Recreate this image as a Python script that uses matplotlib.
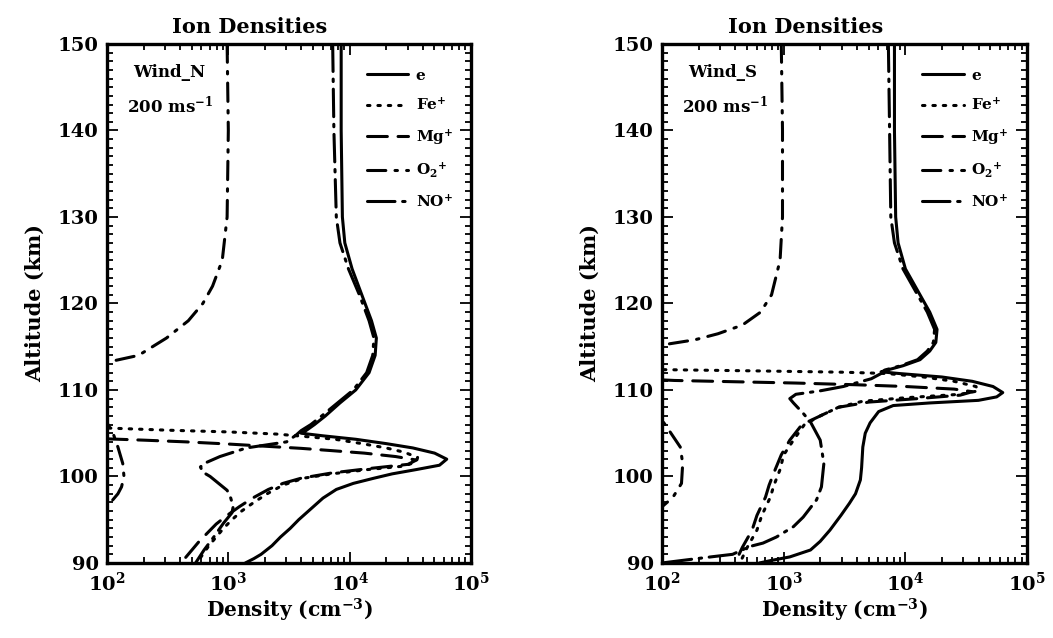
import numpy as np
import matplotlib
matplotlib.use("Agg")
import matplotlib.pyplot as plt
from matplotlib.ticker import FixedLocator, NullFormatter, LogLocator

plt.rcParams['font.family'] = ['DejaVu Serif']
plt.rcParams['font.weight'] = 'bold'
plt.rcParams['mathtext.fontset'] = 'dejavuserif'
plt.rcParams['mathtext.default'] = 'bf'

# ---------------- Wind_N panel (log10 density vs altitude) ----------------
alt_e_N = [150, 140, 130, 127, 124, 121, 118, 116, 114, 112, 110, 108.5, 107, 106, 105.3, 105.0,
           104.7, 104.3, 103.8, 103.3, 102.7, 102.0, 101.3, 100.8, 100.3, 99.8, 99.2, 98.5, 97.5,
           96.5, 95, 94, 93, 92, 91, 90.5, 90]
log_e_N = [3.93, 3.93, 3.94, 3.96, 4.02, 4.10, 4.18, 4.22, 4.21, 4.16, 4.05, 3.92, 3.80, 3.71, 3.64, 3.60,
           3.78, 4.05, 4.30, 4.52, 4.70, 4.80, 4.74, 4.55, 4.35, 4.20, 4.03, 3.89, 3.78,
           3.70, 3.58, 3.51, 3.43, 3.36, 3.27, 3.21, 3.14]

alt_fe_N = [106.2, 105.6, 105.35, 105.15, 104.9, 104.6, 104.3, 103.8, 103.3, 102.8, 102.2, 101.7, 101.2,
            100.8, 100.3, 99.8, 99, 98, 97, 96, 95, 94, 93, 92, 91, 90]
log_fe_N = [1.5, 2.0, 2.5, 3.0, 3.4, 3.65, 3.88, 4.10, 4.30, 4.45, 4.56, 4.55, 4.45,
            4.15, 3.85, 3.62, 3.45, 3.32, 3.21, 3.11, 3.03, 2.96, 2.90, 2.84, 2.79, 2.74]

alt_mg_N = [104.8, 104.35, 104.2, 104.0, 103.75, 103.5, 103.25, 103.0, 102.7, 102.3, 101.9, 101.4, 100.9,
            100.4, 99.8, 99.2, 98.5, 97.5, 96.5, 95.5, 94.5, 93.5, 92.5, 91.5, 90.5, 90]
log_mg_N = [1.5, 2.0, 2.3, 2.65, 3.0, 3.3, 3.6, 3.84, 4.12, 4.38, 4.55, 4.48, 4.15,
            3.85, 3.60, 3.45, 3.33, 3.20, 3.09, 2.99, 2.90, 2.83, 2.76, 2.70, 2.64, 2.61]

alt_o2_N = [150, 140, 130, 125, 122, 120, 118, 116, 114, 113.2, 112, 107, 106.2, 105, 103.4, 101.5,
            100, 98.8, 98, 97, 96.3, 95]
log_o2_N = [2.99, 3.00, 2.99, 2.95, 2.87, 2.79, 2.67, 2.49, 2.26, 2.00, 1.6, 1.6, 2.00, 2.05, 2.09, 2.13,
            2.14, 2.12, 2.09, 2.03, 1.99, 1.6]

alt_no_N = [150, 140, 130, 127, 124, 121, 118, 116, 114, 112, 110, 108.5, 107, 106, 105.3, 104.8,
            104.0, 103.3, 102.3, 101.5, 101.1, 100.5, 100, 99.2, 98.4, 97.5, 96.5, 95.8, 94.6, 93,
            91.5, 90]
log_no_N = [3.86, 3.87, 3.89, 3.92, 3.99, 4.08, 4.16, 4.20, 4.19, 4.14, 4.03, 3.90, 3.77, 3.68, 3.60, 3.56,
            3.48, 3.15, 2.93, 2.80, 2.77, 2.79, 2.85, 2.92, 2.99, 3.02, 3.04, 3.03, 2.96, 2.88,
            2.80, 2.73]

# ---------------- Wind_S panel ----------------
alt_e_S = [150, 140, 130, 127, 124, 121, 119, 117, 115.5, 114.5, 113.5, 112.8, 112.3, 112.1, 111.9,
           111.5, 111.0, 110.4, 109.7, 109.2, 108.8, 108.5, 108.2, 107.5, 106.2, 105, 103.4, 101,
           99.6, 98, 96.9, 95.5, 93.8, 92.5, 91.5, 90.7, 90.3, 90]
log_e_S = [3.91, 3.91, 3.92, 3.94, 4.00, 4.12, 4.20, 4.26, 4.25, 4.20, 4.12, 3.98, 3.85, 3.80, 3.95,
           4.30, 4.55, 4.72, 4.80, 4.75, 4.60, 4.20, 3.90, 3.78, 3.71, 3.67, 3.65, 3.64,
           3.63, 3.59, 3.54, 3.47, 3.38, 3.30, 3.22, 3.05, 2.90, 2.80]

alt_fe_S = [112.6, 112.35, 112.2, 112.05, 111.9, 111.5, 111.0, 110.4, 109.9, 109.5, 109.1, 108.7, 108.0,
            107.0, 106.0, 104.2, 102.5, 100.8, 99, 97.6, 95.5, 93.8, 91.8, 90]
log_fe_S = [1.5, 2.0, 2.8, 3.5, 3.85, 4.15, 4.40, 4.58, 4.60, 4.45, 4.00, 3.65, 3.45,
            3.30, 3.17, 3.08, 3.00, 2.97, 2.92, 2.89, 2.82, 2.78, 2.70, 2.64]

alt_mg_S = [111.5, 111.1, 110.95, 110.8, 110.6, 110.4, 110.1, 109.8, 109.4, 109.0, 108.6, 108.0, 107.0,
            106.0, 104.2, 102.5, 100.8, 99, 97.6, 95.5, 93.8, 91.8, 90]
log_mg_S = [1.5, 2.1, 2.6, 3.1, 3.6, 4.0, 4.4, 4.55, 4.45, 4.10, 3.70, 3.45, 3.30,
            3.15, 3.05, 2.98, 2.93, 2.88, 2.85, 2.78, 2.74, 2.66, 2.60]

alt_o2_S = [150, 140, 130, 125, 121, 119, 117.5, 116.5, 115.8, 115.2, 114, 107.5, 106.5, 105.7, 103.4,
            101.5, 99.2, 97.6, 96.5, 95.5]
log_o2_S = [2.98, 2.99, 2.99, 2.97, 2.90, 2.81, 2.66, 2.46, 2.27, 2.00, 1.6, 1.6, 2.00, 2.04, 2.15,
            2.17, 2.16, 2.09, 2.00, 1.6]

alt_no_S = [150, 140, 130, 127, 124, 121, 119, 117, 115.5, 114.5, 113.5, 112.8, 112.3, 111.9, 111.3,
            110.4, 109.9, 109.5, 109.0, 108.5, 107.3, 106.3, 104.2, 101.5, 98.8, 97.3, 95.3, 94.2,
            93.0, 92.3, 91.9, 91.0, 90.7, 90.3, 90.0]
log_no_S = [3.86, 3.87, 3.88, 3.91, 3.98, 4.10, 4.18, 4.24, 4.23, 4.18, 4.10, 3.96, 3.83, 3.80, 3.72,
            3.49, 3.30, 3.10, 3.05, 3.08, 3.16, 3.22, 3.30, 3.33, 3.31, 3.27, 3.16, 3.08,
            2.94, 2.83, 2.72, 2.58, 2.40, 2.17, 2.00]

species = ['e', 'Fe$^{+}$', 'Mg$^{+}$', 'O$_{2}$$^{+}$', 'NO$^{+}$']
styles = ['-', (0, (0.8, 2.6)), (0, (6.5, 3.5)), (0, (6, 3, 0.8, 3)),
          (0, (9, 2.5, 0.8, 2.5))]

panels = [
    ('Wind_N', [(alt_e_N, log_e_N), (alt_fe_N, log_fe_N), (alt_mg_N, log_mg_N),
                (alt_o2_N, log_o2_N), (alt_no_N, log_no_N)]),
    ('Wind_S', [(alt_e_S, log_e_S), (alt_fe_S, log_fe_S), (alt_mg_S, log_mg_S),
                (alt_o2_S, log_o2_S), (alt_no_S, log_no_S)]),
]

fig = plt.figure(figsize=(10.53, 6.38), dpi=100)
rects = [[0.1016, 0.1176, 0.3457, 0.8135], [0.6287, 0.1176, 0.3467, 0.8135]]

for rect, (wind, series) in zip(rects, panels):
    ax = fig.add_axes(rect)
    for (alt, lg), name, ls in zip(series, species, styles):
        ax.plot(10 ** np.array(lg), alt, color='black', lw=2.2, linestyle=ls,
                label=name, dash_capstyle='round', solid_capstyle='round')
    ax.set_xscale('log')
    ax.set_xlim(1e2, 1e5)
    ax.set_ylim(90, 150)
    ax.yaxis.set_major_locator(FixedLocator([90, 100, 110, 120, 130, 140, 150]))
    ax.yaxis.set_minor_locator(FixedLocator(np.arange(90, 151, 1)))
    ax.xaxis.set_major_locator(LogLocator(base=10, numticks=10))
    ax.xaxis.set_minor_locator(LogLocator(base=10, subs=np.arange(2, 10), numticks=20))
    ax.xaxis.set_minor_formatter(NullFormatter())
    ax.tick_params(which='both', direction='in', top=True, right=True, width=1.3)
    ax.tick_params(which='major', length=8, labelsize=14, pad=6)
    ax.tick_params(which='minor', length=4)
    for sp in ax.spines.values():
        sp.set_linewidth(2.4)
    ax.text(0.393, 1.014, 'Ion Densities', transform=ax.transAxes, fontsize=15,
            fontweight='bold', ha='center', va='bottom')
    ax.set_xlabel('Density (cm$^{-3}$)', fontsize=14.5, fontweight='bold', labelpad=2)
    ax.set_ylabel('Altitude (km)', fontsize=15, fontweight='bold', labelpad=9)
    ax.text(0.072, 0.945, wind, transform=ax.transAxes, fontsize=12, fontweight='bold',
            va='center', ha='left')
    ax.text(0.055, 0.882, '200 ms$^{-1}$', transform=ax.transAxes, fontsize=12,
            fontweight='bold', va='center', ha='left')
    ax.legend(loc='upper left', bbox_to_anchor=(0.705, 0.958), frameon=False, fontsize=11,
              handlelength=2.7, handletextpad=0.5, labelspacing=0.9, borderaxespad=0.0,
              borderpad=0.2)

fig.savefig('out.png', dpi=100)
